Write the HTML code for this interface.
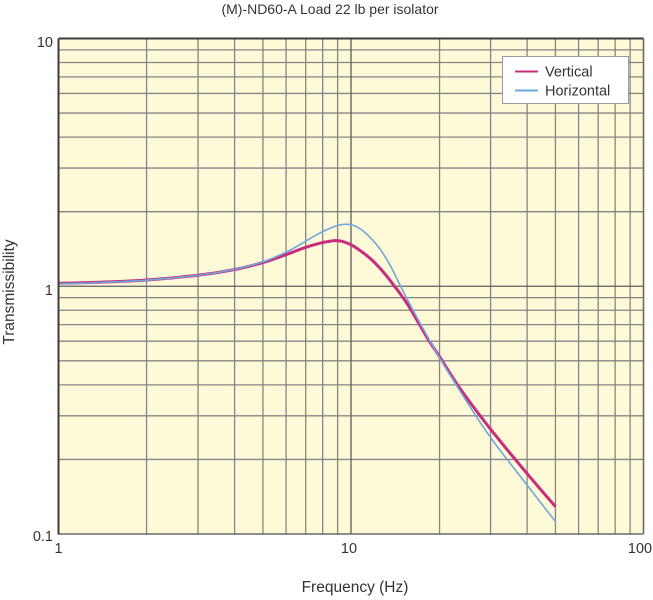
<!DOCTYPE html>
<html>
<head>
<meta charset="utf-8">
<style>
  html, body { margin: 0; padding: 0; background: #ffffff; }
  svg { display: block; }
  text { font-family: "Liberation Sans", Arial, sans-serif; fill: #333333; }
</style>
</head>
<body>
<svg width="653" height="600" viewBox="0 0 653 600" xmlns="http://www.w3.org/2000/svg">
  <!-- plot background -->
  <rect x="58.5" y="38.5" width="585" height="495.5" fill="#fefad8"/>

  <!-- minor vertical grid -->
  <g stroke="#858585" stroke-width="1.3" fill="none">
    <line x1="146.55" y1="38.5" x2="146.55" y2="534"/>
    <line x1="198.06" y1="38.5" x2="198.06" y2="534"/>
    <line x1="234.60" y1="38.5" x2="234.60" y2="534"/>
    <line x1="262.95" y1="38.5" x2="262.95" y2="534"/>
    <line x1="286.11" y1="38.5" x2="286.11" y2="534"/>
    <line x1="305.69" y1="38.5" x2="305.69" y2="534"/>
    <line x1="322.65" y1="38.5" x2="322.65" y2="534"/>
    <line x1="337.62" y1="38.5" x2="337.62" y2="534"/>
    <line x1="439.55" y1="38.5" x2="439.55" y2="534"/>
    <line x1="490.56" y1="38.5" x2="490.56" y2="534"/>
    <line x1="527.10" y1="38.5" x2="527.10" y2="534"/>
    <line x1="555.45" y1="38.5" x2="555.45" y2="534"/>
    <line x1="578.61" y1="38.5" x2="578.61" y2="534"/>
    <line x1="598.19" y1="38.5" x2="598.19" y2="534"/>
    <line x1="615.15" y1="38.5" x2="615.15" y2="534"/>
    <line x1="630.12" y1="38.5" x2="630.12" y2="534"/>
    <!-- minor horizontal grid (1-10) -->
    <line x1="58.5" y1="211.67" x2="643.5" y2="211.67"/>
    <line x1="58.5" y1="168.04" x2="643.5" y2="168.04"/>
    <line x1="58.5" y1="137.09" x2="643.5" y2="137.09"/>
    <line x1="58.5" y1="113.08" x2="643.5" y2="113.08"/>
    <line x1="58.5" y1="93.46" x2="643.5" y2="93.46"/>
    <line x1="58.5" y1="76.88" x2="643.5" y2="76.88"/>
    <line x1="58.5" y1="62.51" x2="643.5" y2="62.51"/>
    <line x1="58.5" y1="49.84" x2="643.5" y2="49.84"/>
    <!-- minor horizontal grid (0.1-1) -->
    <line x1="58.5" y1="459.42" x2="643.5" y2="459.42"/>
    <line x1="58.5" y1="415.79" x2="643.5" y2="415.79"/>
    <line x1="58.5" y1="384.84" x2="643.5" y2="384.84"/>
    <line x1="58.5" y1="360.83" x2="643.5" y2="360.83"/>
    <line x1="58.5" y1="341.21" x2="643.5" y2="341.21"/>
    <line x1="58.5" y1="324.63" x2="643.5" y2="324.63"/>
    <line x1="58.5" y1="310.26" x2="643.5" y2="310.26"/>
    <line x1="58.5" y1="297.59" x2="643.5" y2="297.59"/>
  </g>
  <!-- major grid -->
  <g stroke="#5e5e5e" stroke-width="1.3" fill="none">
    <line x1="351" y1="38.5" x2="351" y2="534"/>
    <line x1="58.5" y1="286.25" x2="643.5" y2="286.25"/>
  </g>

  <!-- frame -->
  <line x1="58.5" y1="534" x2="643.5" y2="534" stroke="#6a6a6a" stroke-width="1.6"/>
  <line x1="643.5" y1="38.5" x2="643.5" y2="534" stroke="#6a6a6a" stroke-width="1.6"/>
  <line x1="58.5" y1="38.5" x2="643.5" y2="38.5" stroke="#3c3c3c" stroke-width="2"/>
  <line x1="58.5" y1="38.5" x2="58.5" y2="534.5" stroke="#3c3c3c" stroke-width="2"/>

  <!-- Vertical curve -->
  <polyline id="cv" fill="none" stroke="#c92c7c" stroke-width="3" stroke-linejoin="round" stroke-linecap="butt"
    points="59.5,283.3 100,282.2 146.6,280 198,275.2 234.6,269.5 263,262.5 287,254.3 305,247.6 320,243.2 333,240.8 340,241 345,242.3 352,245.3 360,250.5 368,256.6 375,263 385,274 394.3,286 400,293.5 408.3,305.5 418.3,322.5 428.3,339.5 441,359 460,388.5 490,428.5 527,473.5 555.5,506.7"/>

  <!-- Horizontal curve -->
  <polyline id="ch" fill="none" stroke="#6fa8dc" stroke-width="1.6" stroke-linejoin="round"
    points="59.5,283.8 100,282.5 146.6,280.2 198,275.3 234.6,269.3 263,261.8 287,251.7 300,244.5 320,233 335,226.3 342,224.6 347,224.3 352,225 358,227.5 365,232.5 372,239.5 380,249 390,265 397.3,279.5 400,285 410,304.5 420,323 430,341 440,358.5 460,391 490,436.7 527,485 555.5,521.7"/>

  <!-- legend -->
  <rect x="502.5" y="56.5" width="126" height="47" fill="#ffffff" stroke="#9a9a9a" stroke-width="1"/>
  <line x1="515" y1="71.5" x2="538" y2="71.5" stroke="#c92c7c" stroke-width="2"/>
  <line x1="515" y1="90.5" x2="538" y2="90.5" stroke="#6fa8dc" stroke-width="2"/>
  <text x="545" y="76.5" font-size="14.5">Vertical</text>
  <text x="545" y="95.5" font-size="14.5">Horizontal</text>

  <!-- title -->
  <text x="330" y="14" font-size="14" text-anchor="middle">(M)-ND60-A Load 22 lb per isolator</text>

  <!-- y tick labels -->
  <text x="53" y="47" font-size="14.5" text-anchor="end">10</text>
  <text x="53" y="295" font-size="14.5" text-anchor="end">1</text>
  <text x="53" y="541" font-size="14.5" text-anchor="end">0.1</text>

  <!-- x tick labels -->
  <text x="58.5" y="553" font-size="14.5" text-anchor="middle">1</text>
  <text x="349" y="553" font-size="14.5" text-anchor="middle">10</text>
  <text x="640" y="553" font-size="14.5" text-anchor="middle">100</text>

  <!-- axis labels -->
  <text x="355" y="592" font-size="15.5" text-anchor="middle">Frequency (Hz)</text>
  <text transform="translate(14,292) rotate(-90)" x="0" y="0" font-size="15.5" text-anchor="middle">Transmissibility</text>
</svg>
<script>
(function(){
  function smooth(id){
    var el=document.getElementById(id);
    if(!el) return;
    var raw=el.getAttribute('points').trim().split(/\s+/).map(function(s){var a=s.split(',');return [parseFloat(a[0]),parseFloat(a[1])];});
    var out=[];
    for(var i=0;i<raw.length-1;i++){
      var p0=raw[Math.max(0,i-1)],p1=raw[i],p2=raw[i+1],p3=raw[Math.min(raw.length-1,i+2)];
      for(var t=0;t<1;t+=0.1){
        var t2=t*t,t3=t2*t;
        var x=0.5*((2*p1[0])+(-p0[0]+p2[0])*t+(2*p0[0]-5*p1[0]+4*p2[0]-p3[0])*t2+(-p0[0]+3*p1[0]-3*p2[0]+p3[0])*t3);
        var y=0.5*((2*p1[1])+(-p0[1]+p2[1])*t+(2*p0[1]-5*p1[1]+4*p2[1]-p3[1])*t2+(-p0[1]+3*p1[1]-3*p2[1]+p3[1])*t3);
        out.push(x.toFixed(2)+','+y.toFixed(2));
      }
    }
    var last=raw[raw.length-1];
    out.push(last[0]+','+last[1]);
    el.setAttribute('points',out.join(' '));
  }
  smooth('cv');smooth('ch');
})();
</script>
</body>
</html>
